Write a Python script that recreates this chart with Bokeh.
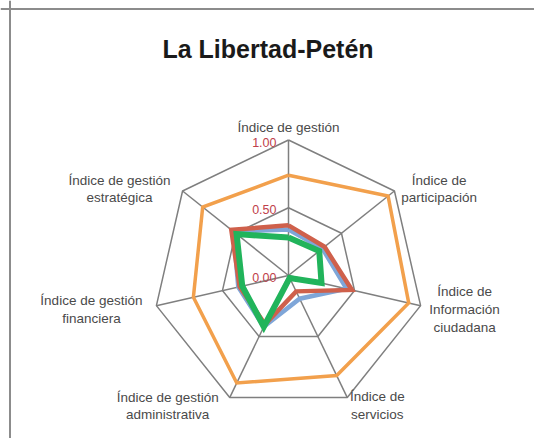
import numpy as np
from bokeh.plotting import figure
from bokeh.models import Range1d, Span, Label, ColumnDataSource
from bokeh.embed import file_html
from bokeh.resources import INLINE
from bokeh.core.properties import value

# ---------------- data ----------------
title_text = "La Libertad-Petén"
categories = [
    "Índice de gestión",
    "Índice de\nparticipación",
    "Índice de\nInformación\nciudadana",
    "Índice de\nservicios",
    "Índice de gestión\nadministrativa",
    "Índice de gestión\nfinanciera",
    "Índice de gestión\nestratégica",
]
serie_naranja = [0.74, 0.94, 0.91, 0.82, 0.88, 0.72, 0.81]
serie_azul = [0.34, 0.32, 0.44, 0.19, 0.42, 0.38, 0.52]
serie_roja = [0.37, 0.34, 0.48, 0.13, 0.40, 0.37, 0.54]
serie_verde = [0.28, 0.29, 0.25, 0.02, 0.42, 0.35, 0.49]
tick_values = [0.0, 0.5, 1.0]
tick_labels = ["0.00", "0.50", "1.00"]
grid_levels = [0.5, 1.0]

# ---------------- layout ----------------
W, H = 534, 438
CX, CY = 288, 275          # radar centre, px from top-left of the figure
R = 135.5                  # px for value 1.0
label_offsets = [(0, -12.5), (44.6, -2), (44, 4), (30, 8), (-62, 8.4), (-65, 4), (-63, -2)]

n = len(categories)
theta = np.arange(n) * 2 * np.pi / n
sx, cy = np.sin(theta), np.cos(theta)

p = figure(width=W, height=H,
           x_range=Range1d(-CX / R, (W - CX) / R),
           y_range=Range1d(-(H - CY) / R, CY / R),
           output_backend="svg", toolbar_location=None, tools="",
           min_border=0, x_axis_location=None, y_axis_location=None)
p.grid.visible = False
p.outline_line_color = None
p.background_fill_color = "white"
p.border_fill_color = "white"

# frame lines (left and top only visible in the window)
p.add_layout(Span(location=p.x_range.start + 9.5 / R, dimension="height",
                  line_color="#8c8c8c", line_width=2))
p.add_layout(Span(location=p.y_range.end - 8.5 / R, dimension="width",
                  line_color="#8c8c8c", line_width=2))

grid_color = "#7f7f7f"
for lvl in grid_levels:
    xs = list(lvl * sx) + [lvl * sx[0]]
    ys = list(lvl * cy) + [lvl * cy[0]]
    p.line(xs, ys, line_color=grid_color, line_width=1.5)
for i in range(n):
    p.line([0, sx[i]], [0, cy[i]], line_color=grid_color, line_width=1.5)

def poly(vals, color, width):
    v = np.array(vals)
    xs = list(v * sx) + [v[0] * sx[0]]
    ys = list(v * cy) + [v[0] * cy[0]]
    p.line(xs, ys, line_color=color, line_width=width, line_join="miter")

poly(serie_naranja, "#f2a04c", 3.5)
poly(serie_azul, "#7fa6d8", 4.5)
poly(serie_roja, "#cf604b", 4.5)
poly(serie_verde, "#21b45b", 6)

# category labels
src = ColumnDataSource(dict(x=list(sx), y=list(cy), text=categories,
                            xo=[o[0] for o in label_offsets],
                            yo=[o[1] for o in label_offsets]))
p.text(x="x", y="y", text="text", x_offset="xo", y_offset="yo", source=src,
       text_font=value("Liberation Sans"), text_font_size="13.5px",
       text_color="#4a4a4a", text_align="center", text_baseline="middle",
       text_line_height=1.18)

# tick labels
p.text(x=[0] * len(tick_values), y=tick_values, text=tick_labels,
       x_offset=-12, y_offset=2,
       text_font=value("Liberation Sans"), text_font_size="12.5px",
       text_color="#c0404a", text_align="right", text_baseline="middle")

# title
p.add_layout(Label(x=267.5, y=H - 48, x_units="screen", y_units="screen",
                   text=title_text, text_font="Liberation Sans",
                   text_font_style="bold", text_font_size="25px",
                   text_color="#1a1a1a", text_align="center",
                   text_baseline="middle"))

open("out.html", "w").write(file_html(p, INLINE))
